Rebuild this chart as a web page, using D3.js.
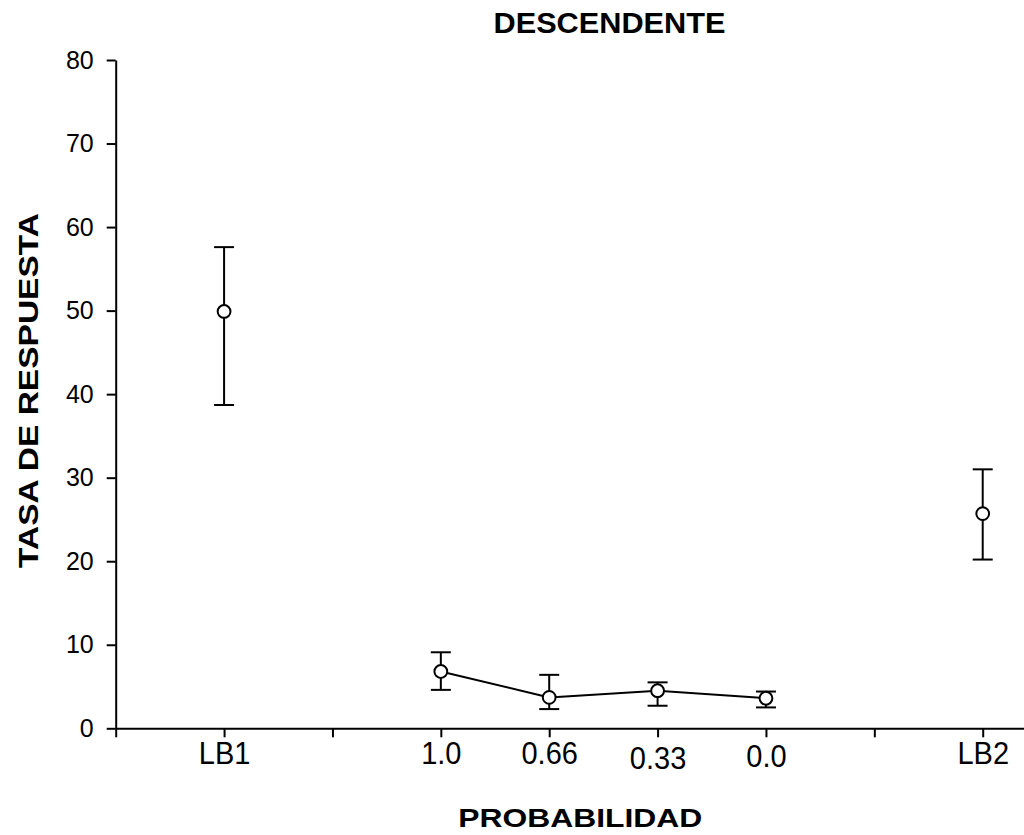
<!DOCTYPE html>
<html>
<head>
<meta charset="utf-8">
<script src="https://cdn.jsdelivr.net/npm/d3@7"></script>
<style>
  html, body { margin: 0; padding: 0; background: #fff; }
  svg { display: block; }
  text { font-family: "Liberation Sans", Arial, Helvetica, sans-serif; fill: #000; }
</style>
</head>
<body>
<svg id="chart" width="1024" height="835"></svg>
<script>
// Response rate by condition (baselines LB1/LB2 and probability phases)
const categories = ["LB1", "1.0", "0.66", "0.33", "0.0", "LB2"];
const positions  = [1, 3, 4, 5, 6, 8];
const means      = [49.9, 6.8, 3.7, 4.5, 3.6, 25.7];
const upper      = [57.6, 9.1, 6.4, 5.5, 4.4, 31.0];
const lower      = [38.7, 4.6, 2.3, 2.7, 2.5, 20.2];
// indices of the probability phases joined by a line
const connected  = [1, 2, 3, 4];
const yTicks     = [0, 10, 20, 30, 40, 50, 60, 70, 80];
const xTicks     = [0, 1, 2, 3, 4, 5, 6, 7, 8];

const svg = d3.select("#chart");
const SW = 2;

const x = d3.scaleLinear().domain([0, 8.381]).range([115.7, 1024]);
const y = d3.scaleLinear().domain([0, 80]).range([728.3, 60]);

const labelAt = new Map(positions.map((p, i) => [p, categories[i]]));
// small vertical nudges of some category labels
const labelShift = { "0.33": 5, "0.0": 3 };

// Y axis
const yAxis = svg.append("g")
  .attr("transform", `translate(${x(0)},0)`)
  .call(d3.axisLeft(y).tickValues(yTicks).tickSize(9).tickPadding(13).tickSizeOuter(0));
yAxis.select(".domain").attr("stroke", "#000").attr("stroke-width", SW);
yAxis.selectAll(".tick line").attr("stroke", "#000").attr("stroke-width", SW);
yAxis.selectAll(".tick text")
  .style("font-size", "25px")
  .style("font-family", "'Liberation Sans', Arial, sans-serif");

// X axis
const xAxis = svg.append("g")
  .attr("transform", `translate(0,${y(0)})`)
  .call(d3.axisBottom(x).tickValues(xTicks).tickSize(9).tickSizeOuter(0)
    .tickFormat(d => labelAt.get(d) || ""));
xAxis.select(".domain").attr("stroke", "#000").attr("stroke-width", SW);
xAxis.selectAll(".tick line").attr("stroke", "#000").attr("stroke-width", SW);
xAxis.selectAll(".tick text")
  .style("font-size", "29px")
  .style("font-family", "'Liberation Sans', Arial, sans-serif")
  .attr("dy", null)
  .attr("y", 0)
  .attr("transform", function(d) {
    const lab = labelAt.get(d) || "";
    return `translate(0,${35.7 + (labelShift[lab] || 0)}) scale(1,1.05)`;
  });

// Error bars
const capHalf = 10;
const eb = svg.append("g").attr("stroke", "#000").attr("stroke-width", SW).attr("fill", "none");
positions.forEach((p, i) => {
  const cx = x(p);
  eb.append("line").attr("x1", cx).attr("x2", cx).attr("y1", y(lower[i])).attr("y2", y(upper[i]));
  eb.append("line").attr("x1", cx - capHalf).attr("x2", cx + capHalf).attr("y1", y(upper[i])).attr("y2", y(upper[i]));
  eb.append("line").attr("x1", cx - capHalf).attr("x2", cx + capHalf).attr("y1", y(lower[i])).attr("y2", y(lower[i]));
});

// Line through the probability phases
const line = d3.line().x(i => x(positions[i])).y(i => y(means[i]));
svg.append("path")
  .datum(connected)
  .attr("d", line)
  .attr("fill", "none")
  .attr("stroke", "#000")
  .attr("stroke-width", SW);

// Markers
svg.append("g").selectAll("circle")
  .data(positions.map((p, i) => ({ p, m: means[i] })))
  .join("circle")
  .attr("cx", d => x(d.p))
  .attr("cy", d => y(d.m))
  .attr("r", 6.4)
  .attr("fill", "#fff")
  .attr("stroke", "#000")
  .attr("stroke-width", SW);

// Titles
svg.append("text")
  .attr("x", 609.5).attr("y", 33.3)
  .attr("text-anchor", "middle")
  .attr("textLength", 232).attr("lengthAdjust", "spacingAndGlyphs")
  .style("font-size", "29px").style("font-weight", "bold")
  .text("DESCENDENTE");

svg.append("text")
  .attr("x", 580.3).attr("y", 826.7)
  .attr("text-anchor", "middle")
  .attr("textLength", 244).attr("lengthAdjust", "spacingAndGlyphs")
  .style("font-size", "25px").style("font-weight", "bold")
  .text("PROBABILIDAD");

svg.append("text")
  .attr("transform", "translate(38,390.5) rotate(-90)")
  .attr("text-anchor", "middle")
  .attr("textLength", 355).attr("lengthAdjust", "spacingAndGlyphs")
  .style("font-size", "28px").style("font-weight", "bold")
  .text("TASA DE RESPUESTA");
</script>
</body>
</html>
